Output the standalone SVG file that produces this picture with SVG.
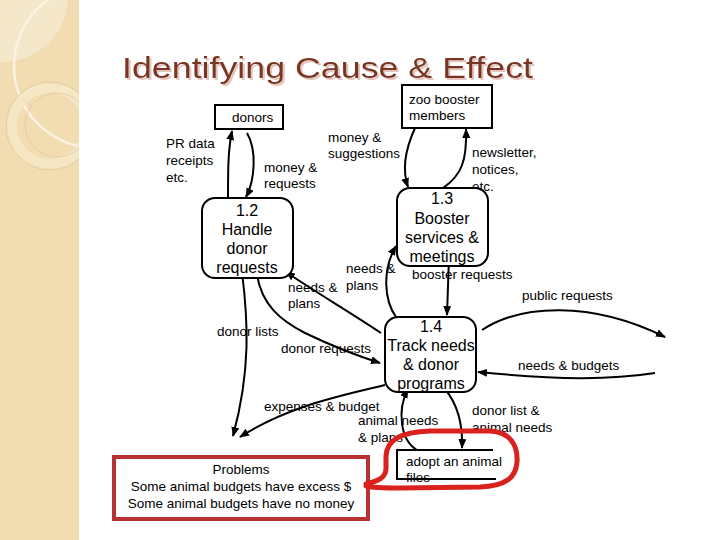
<svg xmlns="http://www.w3.org/2000/svg" width="720" height="540" viewBox="0 0 720 540">
<style>
text{font-family:"Liberation Sans",Arial,sans-serif;fill:#000}
.lbl{font-size:13.5px}
.nd{font-size:16px;text-anchor:middle}
.box{fill:#fff;stroke:#000;stroke-width:2}
.proc{fill:#fff;stroke:#000;stroke-width:2}
.c{fill:none;stroke:#000;stroke-width:2}
</style>
<defs>
<marker id="ah" markerWidth="10" markerHeight="8" refX="9" refY="4" orient="auto" markerUnits="userSpaceOnUse">
<path d="M0,0 L10,4 L0,8 z" fill="#000"/>
</marker>
<clipPath id="band"><rect x="0" y="0" width="79" height="540"/></clipPath>
<filter id="shadow" x="-5%" y="-20%" width="110%" height="140%">
<feDropShadow dx="2" dy="2" stdDeviation="0.3" flood-color="#e3c6bd" flood-opacity="1"/>
</filter>
</defs>
<rect x="0" y="0" width="720" height="540" fill="#fff"/>
<g id="background" clip-path="url(#band)">
<rect x="0" y="0" width="79" height="540" fill="#f1ddb1"/>
<circle cx="2" cy="-4" r="66" fill="#f5e7c9"/>
<circle cx="96" cy="66" r="82" fill="none" stroke="#fbf3e2" stroke-width="2.5"/>
<circle cx="50" cy="126" r="38" fill="none" stroke="#f5e6c4" stroke-width="10"/>
<circle cx="50" cy="126" r="44" fill="none" stroke="#e2c99a" stroke-width="0.8"/>
<circle cx="57" cy="125" r="32" fill="none" stroke="#e2c99a" stroke-width="0.8"/>
</g>
<g id="title">
<text x="122" y="78" font-size="30" textLength="411" lengthAdjust="spacingAndGlyphs" filter="url(#shadow)" style="fill:#7a3424">Identifying Cause &amp; Effect</text>
</g>
<g id="connectors">
<path class="c" d="M247,133 C257,150 255,180 246,197" marker-end="url(#ah)"/>
<path class="c" d="M228,202 C228,170 228,150 232,131" marker-end="url(#ah)"/>
<path class="c" d="M415,128 C405,150 402,170 408,187" marker-end="url(#ah)"/>
<path class="c" d="M443,188 C462,175 467,160 466,129" marker-end="url(#ah)"/>
<path class="c" d="M449,257 L447,315" marker-end="url(#ah)"/>
<path class="c" d="M396,317 C384,300 382,270 396,246" marker-end="url(#ah)"/>
<path class="c" d="M381,333 C350,312 320,295 286,272" marker-end="url(#ah)"/>
<path class="c" d="M257,275 C262,305 280,320 305,333 C330,345 355,355 380,363" marker-end="url(#ah)"/>
<path class="c" d="M242,272 C248,320 251,370 233,436" marker-end="url(#ah)"/>
<path class="c" d="M385,385 C345,395 290,405 240,437" marker-end="url(#ah)"/>
<path class="c" d="M417,450 C400,440 397,410 408,389" marker-end="url(#ah)"/>
<path class="c" d="M445,389 C458,405 463,425 462,448" marker-end="url(#ah)"/>
<path class="c" d="M482,330 C520,305 590,300 665,337" marker-end="url(#ah)"/>
<path class="c" d="M655,373 C610,380 560,380 478,372" marker-end="url(#ah)"/>
<text class="lbl" x="166" y="148">PR data</text>
<text class="lbl" x="166" y="165">receipts</text>
<text class="lbl" x="166" y="182">etc.</text>
<text class="lbl" x="264" y="172">money &amp;</text>
<text class="lbl" x="264" y="188">requests</text>
<text class="lbl" x="328" y="142">money &amp;</text>
<text class="lbl" x="328" y="158">suggestions</text>
<text class="lbl" x="472" y="157">newsletter,</text>
<text class="lbl" x="472" y="174">notices,</text>
<text class="lbl" x="472" y="191">etc.</text>
<text class="lbl" x="412" y="279">booster requests</text>
<text class="lbl" x="346" y="273">needs &amp;</text>
<text class="lbl" x="346" y="290">plans</text>
<text class="lbl" x="288" y="292">needs &amp;</text>
<text class="lbl" x="288" y="308">plans</text>
<text class="lbl" x="217" y="336">donor lists</text>
<text class="lbl" x="281" y="353">donor requests</text>
<text class="lbl" x="522" y="300">public requests</text>
<text class="lbl" x="518" y="370">needs &amp; budgets</text>
<text class="lbl" x="264" y="411">expenses &amp; budget</text>
<text class="lbl" x="358" y="425">animal needs</text>
<text class="lbl" x="358" y="442">&amp; plans</text>
<text class="lbl" x="472" y="415">donor list &amp;</text>
<text class="lbl" x="472" y="432">animal needs</text>
</g>
<g id="donors">
<rect class="box" x="215" y="105" width="68" height="24"/>
<text class="lbl" x="232" y="122">donors</text>
</g>
<g id="zoo-booster-members">
<rect class="box" x="402" y="85" width="90" height="43"/>
<text class="lbl" x="409" y="104">zoo booster</text>
<text class="lbl" x="409" y="120">members</text>
</g>
<g id="p1-2">
<rect class="proc" x="202" y="198" width="91" height="80" rx="13"/>
<text class="nd" x="247" y="216">1.2</text>
<text class="nd" x="247" y="235">Handle</text>
<text class="nd" x="247" y="254">donor</text>
<text class="nd" x="247" y="273">requests</text>
</g>
<g id="p1-3">
<rect class="proc" x="397" y="188" width="91" height="78" rx="13"/>
<text class="nd" x="442" y="204">1.3</text>
<text class="nd" x="442" y="224">Booster</text>
<text class="nd" x="442" y="243">services &amp;</text>
<text class="nd" x="442" y="262">meetings</text>
</g>
<g id="p1-4">
<rect class="proc" x="385" y="317" width="91" height="75" rx="13"/>
<text class="nd" x="431" y="332">1.4</text>
<text class="nd" x="431" y="351">Track needs</text>
<text class="nd" x="431" y="370">&amp; donor</text>
<text class="nd" x="431" y="389">programs</text>
</g>
<g id="adopt-an-animal-files">
<path d="M493,450 L397,450 L397,479 L496,479" fill="none" stroke="#000" stroke-width="2"/>
<text class="lbl" x="406" y="466">adopt an animal</text>
<text class="lbl" x="406" y="482">files</text>
</g>
<g id="problems">
<rect x="114" y="457" width="254" height="62" fill="#fff" stroke="#b83232" stroke-width="4"/>
<text class="lbl" x="241" y="474" text-anchor="middle">Problems</text>
<text class="lbl" x="241" y="491" text-anchor="middle">Some animal budgets have excess $</text>
<text class="lbl" x="241" y="508" text-anchor="middle">Some animal budgets have no money</text>
</g>
<g id="callout">
<path d="M366,484 C378,481 386,478 386,468 L386,456 C387,440 400,432 430,431 L490,431 C510,432 518,445 517,462 C516,478 505,486 480,487 L400,488 C385,488 374,488 366,486" fill="none" stroke="#d9221e" stroke-width="5" stroke-linejoin="round" stroke-linecap="round"/>
</g>
</svg>
